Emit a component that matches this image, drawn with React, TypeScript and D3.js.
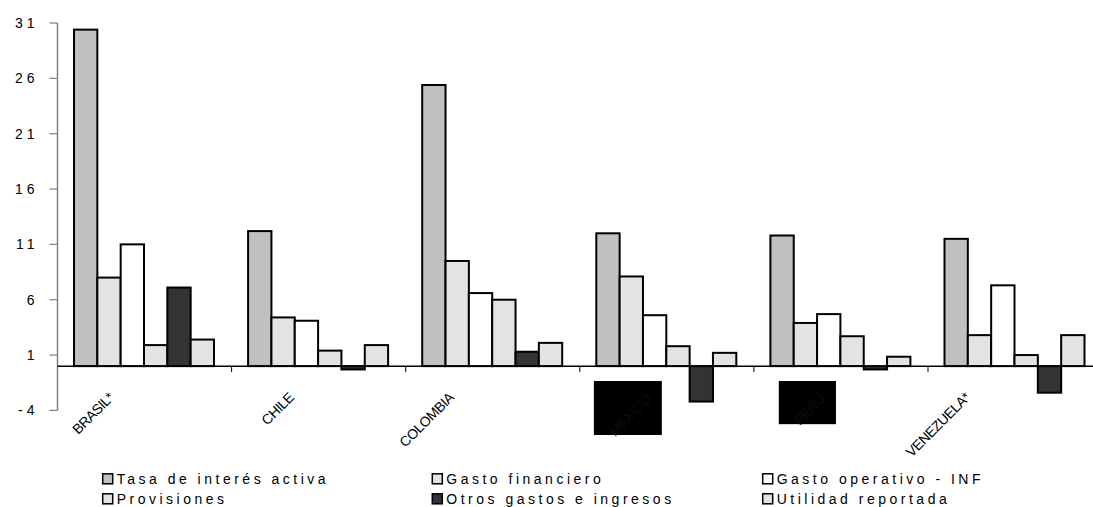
import React, { useEffect, useRef } from 'react';
import * as d3 from 'd3';

const categories = ['BRASIL*', 'CHILE', 'COLOMBIA', 'MEXICO', 'PERU', 'VENEZUELA*'];
const redacted = ['MEXICO', 'PERU'];
const seriesNames = [
  'Tasa de interés activa',
  'Gasto financiero',
  'Gasto operativo - INF',
  'Provisiones',
  'Otros gastos e ingresos',
  'Utilidad reportada',
];
const tasaActiva = [30.4, 12.2, 25.4, 12.0, 11.8, 11.5];
const gastoFinanciero = [8.0, 4.4, 9.5, 8.1, 3.9, 2.8];
const gastoOperativo = [11.0, 4.1, 6.6, 4.6, 4.7, 7.3];
const provisiones = [1.9, 1.4, 6.0, 1.8, 2.7, 1.0];
const otrosGastos = [7.1, -0.3, 1.3, -3.2, -0.3, -2.4];
const utilidad = [2.4, 1.9, 2.1, 1.2, 0.85, 2.8];
const yTicks = [-4, 1, 6, 11, 16, 21, 26, 31];
const seriesFills = ['#c0c0c0', '#e3e3e3', '#ffffff', '#e3e3e3', '#333333', '#e3e3e3'];

const seriesValues = [tasaActiva, gastoFinanciero, gastoOperativo, provisiones, otrosGastos, utilidad];

const FONT = '"Liberation Sans", Arial, sans-serif';

export default function App() {
  const ref = useRef<SVGSVGElement>(null);

  useEffect(() => {
    const svg = d3.select(ref.current);
    svg.selectAll('*').remove();

    const W = 1093;
    const axisX = 57.5;
    const y = d3.scaleLinear().domain([-4, 31]).range([410.4, 23]);
    const x0 = d3.scaleBand<string>().domain(categories).range([axisX, axisX + 6 * 174.1]).padding(0);
    const x1 = d3.scaleBand<string>().domain(seriesNames).range([16.5, 156.5]).padding(0);
    const y0 = y(0);

    const g = svg.append('g');

    // y axis
    g.append('line')
      .attr('x1', axisX).attr('x2', axisX)
      .attr('y1', y(31)).attr('y2', y(-4))
      .attr('stroke', '#808080').attr('stroke-width', 1.5);
    const yt = g.append('g');
    yTicks.forEach((t) => {
      yt.append('line')
        .attr('x1', axisX - 8).attr('x2', axisX)
        .attr('y1', y(t)).attr('y2', y(t))
        .attr('stroke', '#808080').attr('stroke-width', 1.2);
      yt.append('text')
        .attr('x', 38.5).attr('y', y(t))
        .attr('dy', '0.35em')
        .attr('text-anchor', 'end')
        .attr('font-family', FONT)
        .attr('font-size', 14)
        .attr('letter-spacing', 4)
        .attr('fill', '#000')
        .text(String(t));
    });

    // bars
    categories.forEach((c, ci) => {
      const gx = x0(c)!;
      seriesNames.forEach((s, si) => {
        const v = seriesValues[si][ci];
        const yv = y(v);
        g.append('rect')
          .attr('x', gx + x1(s)!)
          .attr('y', Math.min(yv, y0))
          .attr('width', x1.bandwidth())
          .attr('height', Math.abs(yv - y0))
          .attr('fill', seriesFills[si])
          .attr('stroke', '#000')
          .attr('stroke-width', 2);
      });
    });

    // zero line
    g.append('line')
      .attr('x1', axisX).attr('x2', W + 20)
      .attr('y1', y0).attr('y2', y0)
      .attr('stroke', '#000').attr('stroke-width', 1.5);

    // category ticks
    categories.forEach((c, ci) => {
      if (ci === 0) return;
      const bx = x0(c)!;
      g.append('line')
        .attr('x1', bx).attr('x2', bx)
        .attr('y1', y0).attr('y2', y0 + 6)
        .attr('stroke', '#000').attr('stroke-width', 1);
    });

    // category labels
    categories.forEach((c) => {
      const cx = x0(c)! + x0.bandwidth() / 2;
      const isRed = redacted.includes(c);
      const t = g.append('text')
        .attr('text-anchor', 'end')
        .attr('font-family', FONT)
        .attr('font-size', 14)
        .attr('letter-spacing', -0.5)
        .attr('fill', '#000')
        .text(c);
      const L = (t.node() as SVGTextElement).getComputedTextLength();
      if (isRed) {
        const ext = 0.707 * (L + 10);
        const w = ext + 24;
        const h = ext + 10;
        const rx = cx - 5 - w;
        const ry = 381;
        g.insert('rect', () => t.node() as any)
          .attr('x', rx).attr('y', ry)
          .attr('width', w).attr('height', h)
          .attr('fill', '#000');
        const bx = rx + w - 10;
        const by = ry + 12;
        t.attr('transform', `translate(${bx},${by + 7}) rotate(-45)`).attr('fill', '#0c0c0c');
      } else {
        const bx = cx - 0.45 * L - 6.5;
        const by = 398.5;
        t.attr('transform', `translate(${bx},${by}) rotate(-45)`);
      }
    });

    // legend
    const legCols = [102.7, 432.3, 762.7];
    const legRows = [479.3, 499.3];
    seriesNames.forEach((s, i) => {
      const lx = legCols[i % 3];
      const ly = legRows[Math.floor(i / 3)];
      g.append('rect')
        .attr('x', lx).attr('y', ly - 5.5)
        .attr('width', 10).attr('height', 10)
        .attr('fill', seriesFills[i])
        .attr('stroke', '#000').attr('stroke-width', 1.5);
      g.append('text')
        .attr('x', lx + 14).attr('y', ly)
        .attr('dy', '0.35em')
        .attr('font-family', FONT)
        .attr('font-size', 14)
        .attr('letter-spacing', 3.5)
        .attr('fill', '#000')
        .text(s);
    });
  }, []);

  return (
    <svg
      ref={ref}
      width={1093}
      height={507}
      style={{ position: 'absolute', left: 0, top: 0, background: '#fff' }}
    />
  );
}
